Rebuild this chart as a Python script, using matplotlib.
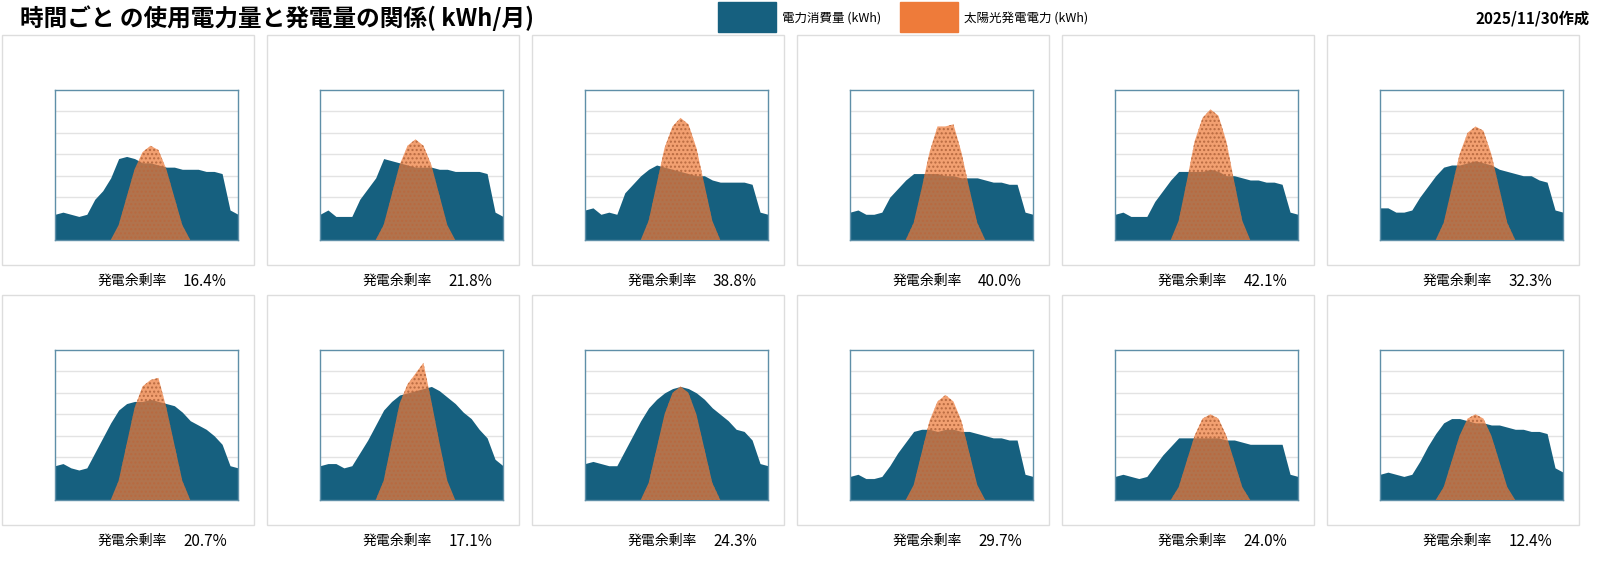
import matplotlib
matplotlib.use("Agg")
import matplotlib.pyplot as plt
from matplotlib.patches import Rectangle

plt.rcParams['font.family'] = ['Noto Sans CJK JP', 'DejaVu Sans']

hours = list(range(24))
consumption = [
 [1.2,1.3,1.2,1.1,1.2,1.9,2.3,2.9,3.8,3.9,3.8,3.6,3.6,3.5,3.4,3.4,3.3,3.3,3.3,3.2,3.2,3.1,1.4,1.2],
 [1.2,1.4,1.1,1.1,1.1,1.9,2.4,2.9,3.8,3.7,3.6,3.5,3.4,3.4,3.4,3.3,3.3,3.2,3.2,3.2,3.2,3.1,1.3,1.1],
 [1.4,1.5,1.2,1.3,1.2,2.2,2.6,3.0,3.3,3.5,3.4,3.3,3.2,3.1,3.0,3.0,2.8,2.7,2.7,2.7,2.7,2.6,1.3,1.2],
 [1.3,1.4,1.2,1.2,1.3,2.0,2.4,2.8,3.1,3.1,3.1,3.1,3.0,3.0,2.9,2.9,2.9,2.8,2.7,2.7,2.6,2.6,1.3,1.2],
 [1.2,1.3,1.1,1.1,1.1,1.8,2.3,2.8,3.2,3.2,3.2,3.2,3.3,3.2,3.0,3.0,2.9,2.8,2.8,2.7,2.7,2.6,1.3,1.2],
 [1.5,1.5,1.3,1.3,1.4,2.0,2.5,3.0,3.4,3.5,3.5,3.6,3.7,3.6,3.5,3.3,3.2,3.1,3.0,3.0,2.8,2.7,1.4,1.3],
 [1.6,1.7,1.5,1.4,1.5,2.2,2.9,3.6,4.2,4.5,4.6,4.6,4.7,4.6,4.5,4.4,4.1,3.7,3.5,3.3,3.0,2.6,1.6,1.5],
 [1.6,1.7,1.7,1.5,1.6,2.2,2.8,3.5,4.2,4.6,4.9,5.0,5.1,5.2,5.3,5.1,4.8,4.5,4.1,3.8,3.3,2.9,1.9,1.6],
 [1.7,1.8,1.7,1.6,1.6,2.3,3.0,3.7,4.3,4.7,5.0,5.2,5.3,5.2,5.0,4.7,4.3,4.0,3.7,3.3,3.2,2.8,1.7,1.6],
 [1.1,1.2,1.0,1.0,1.1,1.6,2.2,2.7,3.2,3.3,3.3,3.2,3.3,3.3,3.2,3.2,3.1,3.0,2.9,2.9,2.8,2.8,1.2,1.1],
 [1.1,1.2,1.1,1.0,1.1,1.6,2.1,2.5,2.9,2.9,2.9,2.9,2.9,2.9,2.8,2.8,2.7,2.6,2.6,2.6,2.6,2.6,1.2,1.1],
 [1.2,1.3,1.2,1.1,1.2,1.8,2.5,3.1,3.6,3.8,3.8,3.7,3.6,3.6,3.5,3.5,3.4,3.3,3.3,3.2,3.2,3.1,1.5,1.3],
]
Z = [0]*7
solar = [
 Z+[0,0.7,2.0,3.3,4.1,4.4,4.2,3.3,2.0,0.7,0]+[0]*6,
 Z+[0,0.7,2.1,3.5,4.4,4.7,4.4,3.5,2.1,0.7,0]+[0]*6,
 Z+[0,0.9,2.6,4.3,5.3,5.7,5.4,4.3,2.6,0.9,0]+[0]*6,
 Z+[0,0.8,2.4,4.1,5.3,5.3,5.4,4.1,2.4,0.8,0]+[0]*6,
 Z+[0,0.9,2.7,4.6,5.7,6.1,5.8,4.6,2.7,0.9,0]+[0]*6,
 Z+[0,0.8,2.4,4.0,5.0,5.3,5.1,4.0,2.4,0.8,0]+[0]*6,
 Z+[0,0.9,2.6,4.3,5.3,5.6,5.7,4.3,2.6,0.9,0]+[0]*6,
 Z+[0,0.9,2.7,4.5,5.4,5.9,6.4,4.6,2.7,0.9,0]+[0]*6,
 Z+[0,0.8,2.4,4.0,5.0,5.3,5.0,4.0,2.4,0.8,0]+[0]*6,
 Z+[0,0.7,2.2,3.7,4.6,4.9,4.6,3.7,2.2,0.7,0]+[0]*6,
 Z+[0,0.6,1.8,3.0,3.8,4.0,3.8,3.0,1.8,0.6,0]+[0]*6,
 Z+[0,0.6,1.8,3.0,3.8,4.0,3.8,3.0,1.8,0.6,0]+[0]*6,
]
surplus = ["16.4%","21.8%","38.8%","40.0%","42.1%","32.3%",
           "20.7%","17.1%","24.3%","29.7%","24.0%","12.4%"]

W, H = 1600, 570
fig = plt.figure(figsize=(16, 5.7), dpi=100)
BLUE = '#16607F'; ORANGE = '#EE7B3A'

def fr(x, y, w, h):
    return [x/W, 1-(y+h)/H, w/W, h/H]

fig.text(20/W, 1-18/H, "時間ごと の使用電力量と発電量の関係( kWh/月)", fontsize=17,
         fontweight='bold', va='center', ha='left')
fig.patches.append(Rectangle((718/W, 1-32/H), 58/W, 30/H, transform=fig.transFigure, color=BLUE))
fig.text(782/W, 1-18/H, "電力消費量 (kWh)", fontsize=9, va='center')
fig.patches.append(Rectangle((900/W, 1-32/H), 58/W, 30/H, transform=fig.transFigure, color=ORANGE))
fig.text(964/W, 1-18/H, "太陽光発電電力 (kWh)", fontsize=9, va='center')
fig.text(1590/W, 1-18/H, "2025/11/30作成", fontsize=11, fontweight='bold', va='center', ha='right')

for i in range(12):
    r, c = divmod(i, 6)
    px = c*265 + 2
    py = 35 + r*260
    fig.patches.append(Rectangle((px/W, 1-(py+230)/H), 252/W, 230/H, transform=fig.transFigure,
                                 facecolor='none', edgecolor='#dddddd', lw=1, zorder=-5))
    ax = fig.add_axes(fr(px+53, py+55, 183, 150))
    ax.set_zorder(5)
    ax.fill_between(hours, 0, consumption[i], color=BLUE, lw=0, zorder=2)
    ax.fill_between(hours, 0, solar[i], facecolor=ORANGE, alpha=0.72, lw=0, zorder=3)
    ax.fill_between(hours, 0, solar[i], facecolor='none', hatch='....', edgecolor='#b86a40', lw=0, zorder=4)
    ax.set_xlim(0, 23); ax.set_ylim(0, 7)
    ax.set_yticks(range(1, 7)); ax.set_xticks([])
    ax.grid(axis='y', color='#e3e3e3', lw=1, zorder=0)
    ax.set_axisbelow(True)
    ax.tick_params(left=False, labelleft=False)
    for s in ax.spines.values():
        s.set_color('#5f8fa8'); s.set_linewidth(1)
    ty = py + 246
    fig.text((px+165)/W, 1-ty/H, "発電余剰率", fontsize=10, ha='right', va='center')
    fig.text((px+225)/W, 1-ty/H, surplus[i], fontsize=11, ha='right', va='center')
fig.savefig("out.png", dpi=100, facecolor='white')
